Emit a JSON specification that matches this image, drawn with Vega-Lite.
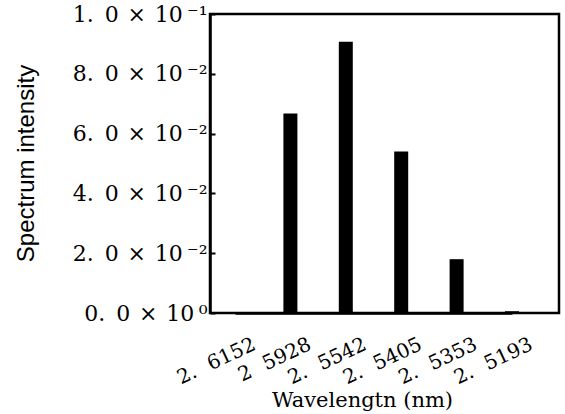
{
  "$schema": "https://vega.github.io/schema/vega-lite/v6.json",
  "autosize": "none",
  "width": 349,
  "height": 299,
  "padding": {"left": 210, "top": 14, "right": 6, "bottom": 101},
  "background": "white",
  "config": {
    "view": {"stroke": "black", "strokeWidth": 2.5},
    "axis": {"grid": false, "domainColor": "black", "domainWidth": 2.5, "tickColor": "black", "labelColor": "black", "titleColor": "black"}
  },
  "data": {
    "values": [
      {"wavelength": "2.6152", "intensity": 0},
      {"wavelength": "2.5928", "intensity": 0.0667},
      {"wavelength": "2.5542", "intensity": 0.0907},
      {"wavelength": "2.5405", "intensity": 0.054},
      {"wavelength": "2.5353", "intensity": 0.018},
      {"wavelength": "2.5193", "intensity": 0.0006}
    ]
  },
  "mark": {"type": "bar", "color": "black", "size": 14},
  "encoding": {
    "x": {
      "field": "wavelength",
      "type": "ordinal",
      "sort": null,
      "scale": {"type": "point", "range": [25, 302], "padding": 0},
      "axis": {
        "title": "Wavelengtn (nm)",
        "titleFont": "DejaVu Serif",
        "titleFontSize": 21,
        "titleFontWeight": "normal",
        "titleX": 152,
        "titleY": 93,
        "titleBaseline": "alphabetic",
        "titleAlign": "center",
        "labelExpr": "datum.value == '2.5928' ? '2\u2002\u20095928' : replace(datum.value, '.', '.\u2002\u2009')",
        "labelAngle": -25,
        "labelAlign": "right",
        "labelBaseline": "middle",
        "labelFont": "DejaVu Serif",
        "labelFontSize": 20,
        "labelPadding": 30,
        "labelDx": 12,
        "labelOffset": 19,
        "ticks": false,
        "domain": true
      }
    },
    "y": {
      "field": "intensity",
      "type": "quantitative",
      "scale": {"domain": [0, 0.1], "nice": false},
      "axis": {
        "title": "Spectrum intensity",
        "titleFont": "Liberation Sans",
        "titleFontSize": 24,
        "titleFontWeight": "normal",
        "titleX": -184,
        "titleY": 149,
        "titleAngle": -90,
        "titleAlign": "center",
        "titleBaseline": "middle",
        "values": [0, 0.02, 0.04, 0.06, 0.08, 0.1],
        "labelExpr": "datum.value == 0 ? '0.\u20020\u2009\u2009×\u2009\u200910\u2009⁰' : datum.value > 0.09 ? '1.\u20020\u2009\u2009×\u2009\u200910\u2009⁻¹' : (format(datum.value * 100, '.0f') + '.\u20020\u2009\u2009×\u2009\u200910\u2009⁻²')",
        "labelFont": "DejaVu Serif",
        "labelFontSize": 22,
        "labelPadding": 8,
        "tickSize": -5,
        "tickWidth": 2
      }
    }
  }
}
